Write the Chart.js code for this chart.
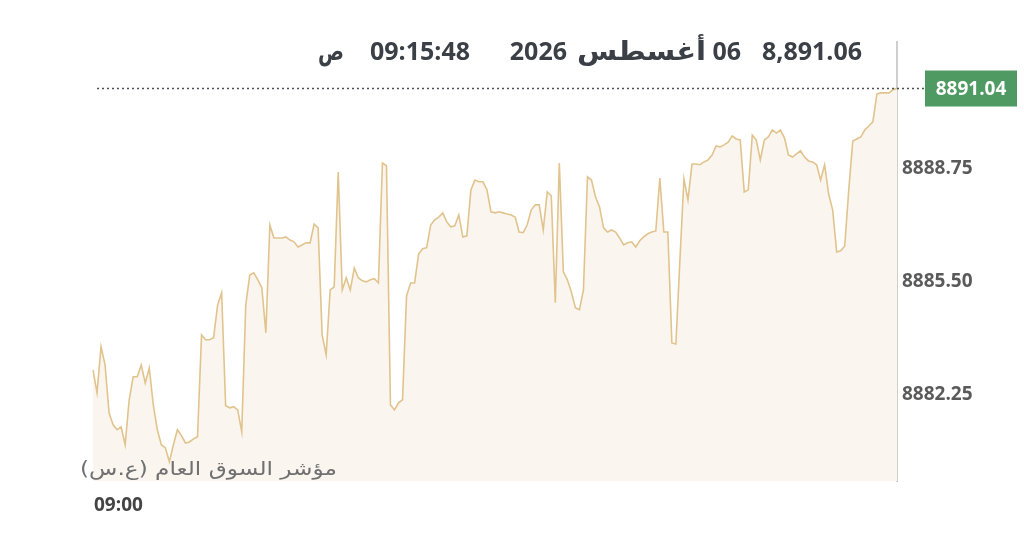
<!DOCTYPE html>
<html>
<head>
<meta charset="utf-8">
<script src="https://cdn.jsdelivr.net/npm/chart.js@4.4.1/dist/chart.umd.min.js"></script>
<style>
  html, body { margin: 0; padding: 0; background: #ffffff; }
  #wrap { width: 1024px; height: 553px; position: relative; }
</style>
</head>
<body>
<div id="wrap"><canvas id="indexChart" width="1024" height="553"></canvas></div>
<script>
// Intraday values of the index
const startTime = '09:00';
const indexValues = [
    8882.97, 8882.31, 8883.63, 8883.11, 8881.73, 8881.39, 8881.25, 8881.33, 8880.82, 8882.11,
    8882.77, 8882.77, 8883.11, 8882.59, 8883.02, 8881.96, 8881.25, 8880.82, 8880.73, 8880.33,
    8880.82, 8881.25, 8881.08, 8880.87, 8880.90, 8880.99, 8881.05, 8883.97, 8883.83, 8883.83,
    8883.89, 8884.83, 8885.18, 8881.94, 8881.88, 8881.91, 8881.82, 8881.19, 8884.83, 8885.69,
    8885.75, 8885.55, 8885.32, 8884.03, 8887.12, 8886.75, 8886.75, 8886.75, 8886.78, 8886.69,
    8886.64, 8886.49, 8886.55, 8886.61, 8886.61, 8887.15, 8887.04, 8883.97, 8883.40, 8885.26,
    8885.35, 8888.64, 8885.26, 8885.61, 8885.26, 8885.89, 8885.61, 8885.52, 8885.49, 8885.55,
    8885.58, 8885.46, 8888.90, 8888.82, 8881.96, 8881.82, 8882.02, 8882.11, 8885.09, 8885.46,
    8885.46, 8886.29, 8886.44, 8886.47, 8887.12, 8887.27, 8887.35, 8887.47, 8887.21, 8887.07,
    8887.10, 8887.41, 8886.78, 8886.81, 8888.13, 8888.41, 8888.36, 8888.36, 8888.13, 8887.50,
    8887.47, 8887.50, 8887.47, 8887.44, 8887.41, 8887.35, 8886.92, 8886.90, 8887.12, 8887.55,
    8887.70, 8887.70, 8886.98, 8888.07, 8887.96, 8884.89, 8888.90, 8885.78, 8885.55, 8885.20,
    8884.75, 8884.69, 8885.26, 8888.50, 8888.41, 8887.93, 8887.64, 8887.04, 8886.92, 8886.98,
    8886.92, 8886.75, 8886.55, 8886.61, 8886.64, 8886.49, 8886.67, 8886.78, 8886.87, 8886.92,
    8886.95, 8888.47, 8886.92, 8886.92, 8883.74, 8883.71, 8886.12, 8888.44, 8887.84, 8888.87,
    8888.87, 8888.85, 8888.93, 8888.99, 8889.13, 8889.39, 8889.36, 8889.42, 8889.50, 8889.68,
    8889.59, 8889.56, 8888.07, 8888.13, 8889.70, 8889.56, 8888.99, 8889.56, 8889.65, 8889.85,
    8889.76, 8889.85, 8889.62, 8889.13, 8889.07, 8889.16, 8889.25, 8889.07, 8888.96, 8888.93,
    8888.85, 8888.41, 8888.85, 8888.01, 8887.55, 8886.35, 8886.38, 8886.52, 8888.13, 8889.53,
    8889.59, 8889.65, 8889.85, 8889.96, 8890.08, 8890.88, 8890.91, 8890.91, 8890.91, 8891.00,
    8891.04
];
const yTicks = [8882.25, 8885.50, 8888.75];
const yMin = 8879.78;
const yMax = 8892.37;
const lastPrice = 8891.04;

// Header texts
const headerPrice = '8,891.06';
const headerDay = '06';
const headerMonth = 'أغسطس';
const headerYear = '2026';
const headerTime = '09:15:48';
const headerAmPm = 'ص';
const indexName = 'مؤشر السوق العام (ع.س)';

const timeLabels = indexValues.map((v, i) => i === 0 ? startTime : '');

// draws text stretched so it spans left..right
function drawFitted(ctx, text, left, right, y) {
    const w = ctx.measureText(text).width;
    const sx = (right - left) / w;
    ctx.save();
    ctx.translate(left, y);
    ctx.scale(sx, 1);
    ctx.textAlign = 'left';
    ctx.fillText(text, 0, 0);
    ctx.restore();
}

// Dotted last-price line, badge and texts
const overlayPlugin = {
    id: 'overlay',
    afterDatasetsDraw(chart) {
        const ctx = chart.ctx;
        const area = chart.chartArea;
        const y = Math.round(chart.scales.y.getPixelForValue(lastPrice)) + 0.5;

        ctx.save();
        ctx.strokeStyle = '#4a4f55';
        ctx.lineWidth = 1.6;
        ctx.setLineDash([2, 3]);
        ctx.beginPath();
        ctx.moveTo(area.left + 4, y);
        ctx.lineTo(area.right + 28, y);
        ctx.stroke();
        ctx.setLineDash([]);

        // green badge
        ctx.fillStyle = '#4f9a63';
        ctx.fillRect(area.right + 28, y - 18, 92, 36);
        ctx.fillStyle = '#ffffff';
        ctx.font = 'bold 19px "Open Sans"';
        ctx.textAlign = 'center';
        ctx.textBaseline = 'middle';
        ctx.fillText(lastPrice.toFixed(2), area.right + 74, y + 1);

        // index name over the bottom-left of the plot
        ctx.fillStyle = '#707070';
        ctx.font = '19px "DejaVu Sans"';
        drawFitted(ctx, indexName, 80, 337, 470);

        // header
        ctx.fillStyle = '#3b4046';
        ctx.textAlign = 'right';
        ctx.font = 'bold 25px "Open Sans"';
        ctx.fillText(headerPrice, 862, 53);
        ctx.fillText(headerDay, 741, 53);
        ctx.fillText(headerYear, 567, 53);
        ctx.fillText(headerTime, 470, 53);
        ctx.font = 'bold 26px "DejaVu Sans"';
        drawFitted(ctx, headerMonth, 577, 706, 53);
        drawFitted(ctx, headerAmPm, 318, 344, 53);

        // first time label
        ctx.textAlign = 'left';
        ctx.fillStyle = '#444444';
        ctx.font = 'bold 19px "Open Sans"';
        ctx.fillText(timeLabels[0], area.left + 1, 506);
        ctx.restore();
    }
};

const ctx = document.getElementById('indexChart');
new Chart(ctx, {
    type: 'line',
    data: {
        labels: timeLabels,
        datasets: [{
            data: indexValues,
            borderColor: '#e1c48d',
            backgroundColor: '#faf5ef',
            borderWidth: 1.6,
            pointRadius: 0,
            tension: 0,
            fill: 'start'
        }]
    },
    options: {
        responsive: false,
        animation: false,
        devicePixelRatio: 1,
        layout: {
            padding: { left: 93, top: 42, right: 0, bottom: 72 }
        },
        plugins: {
            legend: { display: false },
            tooltip: { enabled: false }
        },
        scales: {
            x: {
                display: false,
                offset: false
            },
            y: {
                position: 'right',
                min: yMin,
                max: yMax,
                afterFit(scale) { scale.width = 127; },
                afterBuildTicks(scale) {
                    scale.ticks = yTicks.map(v => ({ value: v }));
                },
                grid: { display: false, drawTicks: false },
                border: { display: true, color: '#cfcfcf', width: 2 },
                ticks: {
                    padding: 5,
                    color: '#5a5a5a',
                    font: { family: 'Open Sans', size: 19, weight: 'bold' },
                    callback: v => v.toFixed(2)
                }
            }
        }
    },
    plugins: [overlayPlugin]
});
</script>
</body>
</html>
